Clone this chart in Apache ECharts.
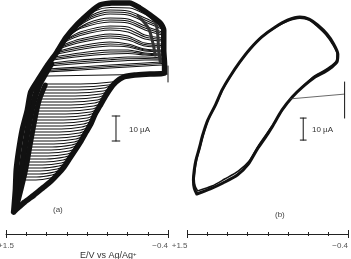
<!DOCTYPE html>
<html><head><meta charset="utf-8">
<script src="https://cdn.jsdelivr.net/npm/echarts@6/dist/echarts.min.js"></script>
<style>html,body{margin:0;padding:0;background:#fff}#c{width:351px;height:259px}</style>
</head><body><div id="c"></div>
<script>
// ---- axis (E / V vs Ag/Ag+) ----
const axisEnds = [1.5, -0.4];
const tickLabels = ['+1.5', '\u22120.4'];
const axisTicks = [1.5, 1.2625, 1.025, 0.7875, 0.55, 0.3125, 0.075, -0.1625, -0.4];

// ---- panel (a): current in uA vs E in V ----
const aOuter = [[1.41,-54.8],[1.39,-46.0],[1.38,-38.0],[1.35,-30.0],[1.31,-22.0],[1.25,-14.0],[1.21,-6.8],[1.11,-1.2],[1.02,3.6],[0.91,8.8],[0.80,14.8],[0.66,20.4],[0.51,25.2],[0.40,28.0],[0.26,28.8],[0.05,28.8],[-0.07,26.8],[-0.19,24.0],[-0.31,20.8],[-0.35,18.0],[-0.35,10.0],[-0.36,4.0],[-0.36,0.8],[-0.19,0.4],[-0.01,0.0],[0.12,-0.8],[0.21,-2.8],[0.28,-5.6],[0.34,-8.8],[0.40,-12.4],[0.46,-16.0],[0.50,-19.2],[0.56,-22.8],[0.62,-26.4],[0.68,-29.6],[0.75,-33.2],[0.82,-36.8],[0.89,-39.6],[0.97,-42.4],[1.07,-45.2],[1.17,-48.0],[1.28,-50.8],[1.36,-53.2],[1.41,-54.8]];
const aWedgeB = [[1.39,-52.0],[1.37,-48.0],[1.32,-38.0],[1.26,-24.8],[1.18,-11.2],[1.11,-4.0],[1.04,0.4],[0.97,4.4]];
const aWedgeC = [[1.37,-52.0],[1.34,-48.0],[1.27,-38.0],[1.20,-24.8],[1.12,-11.2],[1.04,-4.0]];
const aRightPile = [
 [[-0.13,25.2],[-0.25,21.2],[-0.28,16.0],[-0.29,10.0],[-0.31,5.2]],
 [[-0.05,23.6],[-0.17,18.8],[-0.22,13.2],[-0.25,8.0]]
];
const aUpperScans = [
 [[1.03,1.2],[0.63,2.0],[0.28,2.8],[0.07,3.2],[-0.13,3.6],[-0.33,4.0]],
 [[1.03,1.8],[0.63,2.6],[0.28,3.4],[0.07,3.8],[-0.13,4.2],[-0.33,4.6]],
 [[1.02,2.4],[0.63,3.2],[0.28,4.0],[0.07,4.4],[-0.13,4.8],[-0.33,5.2]],
 [[1.00,3.6],[0.63,4.6],[0.28,5.4],[0.07,5.8],[-0.13,6.0],[-0.33,6.0]],
 [[0.98,4.2],[0.63,5.3],[0.28,6.1],[0.07,6.5],[-0.13,6.6],[-0.33,6.4]],
 [[0.97,4.8],[0.63,6.0],[0.28,6.8],[0.07,7.2],[-0.13,7.2],[-0.33,6.8]],
 [[0.95,6.0],[0.63,7.4],[0.28,8.4],[0.07,8.6],[-0.13,8.0],[-0.33,7.6]],
 [[0.94,6.6],[0.63,8.1],[0.28,9.2],[0.07,9.3],[-0.13,8.4],[-0.33,8.0]],
 [[0.93,7.2],[0.63,8.8],[0.28,10.0],[0.07,10.0],[-0.13,8.8],[-0.33,8.4]],
 [[0.90,8.4],[0.63,10.2],[0.28,11.6],[0.07,11.2],[-0.13,9.6],[-0.33,9.2]],
 [[0.89,9.0],[0.63,10.9],[0.28,12.4],[0.07,11.8],[-0.13,10.0],[-0.33,9.6]],
 [[0.88,9.6],[0.63,11.6],[0.28,13.2],[0.07,12.4],[-0.13,10.4],[-0.33,10.0]],
 [[0.85,10.8],[0.63,13.0],[0.28,14.8],[0.07,14.0],[-0.13,11.6],[-0.33,11.2]],
 [[0.84,11.4],[0.63,13.7],[0.28,15.6],[0.07,14.8],[-0.13,12.2],[-0.33,11.8]],
 [[0.83,12.0],[0.63,14.4],[0.28,16.4],[0.07,15.6],[-0.13,12.8],[-0.33,12.4]],
 [[0.81,13.2],[0.63,15.8],[0.28,18.0],[0.07,17.2],[-0.13,14.4],[-0.33,13.6]],
 [[0.80,13.8],[0.63,16.5],[0.28,18.8],[0.07,18.2],[-0.13,15.2],[-0.33,14.2]],
 [[0.78,14.4],[0.63,17.2],[0.28,19.6],[0.07,19.2],[-0.13,16.0],[-0.33,14.8]],
 [[0.76,15.6],[0.63,18.6],[0.28,21.2],[0.07,20.8],[-0.13,18.0],[-0.33,16.0]],
 [[0.74,16.2],[0.59,19.6],[0.28,22.0],[0.07,21.6],[-0.13,18.8],[-0.33,16.6]],
 [[0.73,16.8],[0.54,20.8],[0.28,22.8],[0.07,22.4],[-0.13,19.6],[-0.33,17.2]],
 [[0.69,18.4],[0.51,22.4],[0.28,24.4],[0.07,24.0],[-0.13,21.2],[-0.33,18.4]],
 [[0.67,19.2],[0.50,23.2],[0.28,25.2],[0.07,24.8],[-0.13,22.0],[-0.33,19.0]],
 [[0.64,20.0],[0.49,24.0],[0.28,26.0],[0.07,25.6],[-0.13,22.8],[-0.33,19.6]],
 [[0.60,22.0],[0.46,25.6],[0.28,27.0],[0.05,26.8],[-0.17,23.6],[-0.33,20.4]]
];
const aLowerScans = [
 [[1.04,-3.6],[0.63,-3.6],[0.26,-2.8],[0.16,-1.6]],
 [[1.05,-4.8],[0.64,-4.8],[0.30,-4.0],[0.21,-2.8]],
 [[1.07,-6.0],[0.66,-6.0],[0.35,-5.2],[0.26,-4.0]],
 [[1.08,-7.2],[0.68,-7.2],[0.36,-6.4],[0.27,-5.2]],
 [[1.09,-8.4],[0.69,-8.4],[0.39,-7.6],[0.29,-6.4]],
 [[1.10,-9.6],[0.71,-9.6],[0.41,-8.8],[0.32,-7.6]],
 [[1.11,-10.8],[0.73,-10.8],[0.43,-10.0],[0.34,-8.8]],
 [[1.12,-12.0],[0.74,-12.0],[0.46,-11.2],[0.36,-10.0]],
 [[1.14,-13.2],[0.75,-13.2],[0.47,-12.4],[0.37,-11.2]],
 [[1.15,-14.4],[0.77,-14.4],[0.49,-13.6],[0.40,-12.4]],
 [[1.16,-15.6],[0.80,-15.6],[0.51,-14.8],[0.42,-13.6]],
 [[1.17,-16.8],[0.81,-16.8],[0.54,-16.0],[0.44,-14.8]],
 [[1.17,-18.0],[0.82,-18.0],[0.55,-17.2],[0.46,-16.0]],
 [[1.18,-19.2],[0.83,-19.2],[0.57,-18.4],[0.48,-17.2]],
 [[1.18,-20.4],[0.84,-20.4],[0.59,-19.6],[0.49,-18.4]],
 [[1.19,-21.6],[0.85,-21.6],[0.61,-20.8],[0.51,-19.6]],
 [[1.20,-22.8],[0.87,-22.8],[0.62,-22.0],[0.53,-20.8]],
 [[1.21,-24.0],[0.89,-24.0],[0.64,-23.2],[0.55,-22.0]],
 [[1.22,-25.2],[0.90,-25.2],[0.66,-24.4],[0.56,-23.2]],
 [[1.22,-26.4],[0.93,-26.4],[0.68,-25.6],[0.59,-24.4]],
 [[1.22,-27.6],[0.94,-27.6],[0.70,-26.8],[0.61,-25.6]],
 [[1.23,-28.8],[0.96,-28.8],[0.73,-28.0],[0.63,-26.8]],
 [[1.23,-30.0],[0.97,-30.0],[0.75,-29.2],[0.66,-28.0]],
 [[1.24,-31.2],[1.00,-31.2],[0.76,-30.4],[0.67,-29.2]],
 [[1.24,-32.4],[1.01,-32.4],[0.78,-31.6],[0.69,-30.4]],
 [[1.25,-33.6],[1.03,-33.6],[0.81,-32.8],[0.71,-31.6]],
 [[1.25,-34.8],[1.04,-34.8],[0.83,-34.0],[0.74,-32.8]],
 [[1.26,-36.0],[1.07,-36.0],[0.85,-35.2],[0.76,-34.0]],
 [[1.27,-37.2],[1.08,-37.2],[0.88,-36.4],[0.78,-35.2]],
 [[1.27,-38.4],[1.10,-38.4],[0.90,-37.6],[0.81,-36.4]],
 [[1.28,-39.6],[1.11,-39.6],[0.93,-38.8],[0.84,-37.6]],
 [[1.28,-40.8],[1.14,-40.8],[0.96,-40.0],[0.87,-38.8]],
 [[1.29,-42.0],[1.15,-42.0],[0.98,-41.2],[0.90,-40.0]]
];
const aBaseline = [[1.02,-0.4],[-0.39,0.4]];
const aZeroMark = [[-0.40,3.6],[-0.40,-2.8]];
const aScaleE = 0.21, aScaleTop = -16.4, aScaleBottom = -26.4;

// ---- panel (b) ----
const bCycle1 = [[1.39,-45.9],[1.42,-43.2],[1.43,-39.5],[1.42,-35.0],[1.40,-30.5],[1.36,-25.0],[1.32,-19.1],[1.26,-12.3],[1.17,-5.5],[1.09,1.4],[1.00,7.3],[0.88,14.1],[0.76,20.0],[0.62,25.5],[0.46,30.0],[0.31,33.2],[0.17,34.5],[0.06,33.6],[-0.04,30.9],[-0.15,26.8],[-0.23,22.3],[-0.28,17.7],[-0.27,14.1],[-0.21,11.8],[-0.12,9.5],[-0.01,7.3],[0.14,2.7],[0.26,-1.8],[0.38,-7.7],[0.50,-15.5],[0.59,-20.9],[0.68,-25.9],[0.78,-32.3],[0.91,-37.3],[1.08,-40.9],[1.23,-43.6],[1.39,-45.9]];
const bCycle2 = [[1.38,-44.5],[1.41,-42.3],[1.42,-39.1],[1.41,-34.5],[1.39,-30.0],[1.35,-24.5],[1.31,-18.6],[1.25,-11.8],[1.16,-5.0],[1.08,1.8],[0.99,7.7],[0.87,14.5],[0.75,20.5],[0.61,25.9],[0.45,30.0],[0.31,32.7],[0.17,34.0],[0.06,33.2],[-0.03,30.5],[-0.14,26.4],[-0.22,22.0],[-0.27,17.7],[-0.26,14.5],[-0.20,12.3],[-0.11,10.0],[0.00,7.7],[0.13,3.2],[0.25,-1.4],[0.37,-7.3],[0.49,-14.5],[0.59,-20.0],[0.67,-24.5],[0.77,-30.9],[0.90,-35.5],[1.06,-39.1],[1.21,-42.3],[1.38,-44.5]];
const bBaseline = [[0.29,-2.7],[-0.36,-0.5]];
const bZeroMark = [[-0.36,5.0],[-0.36,-11.4]];
const bScaleE = 0.13, bScaleTop = -11.4, bScaleBottom = -21.4;

const INK = '#111';
const FONT = 'Liberation Sans, Arial, sans-serif';
const chart = echarts.init(document.getElementById('c'), null, {renderer:'canvas'});

function ln(data, g, w, opt) {
  return Object.assign({type:'line', xAxisIndex:g, yAxisIndex:g, data:data, showSymbol:false, symbol:'none',
    smooth:0.3, silent:true, animation:false, clip:false,
    lineStyle:{color:INK, width:w, cap:'round', join:'round'}}, opt || {});
}
function scaleBar(g, e, top, bottom, half) {
  return [
    ln([[e,top],[e,bottom]], g, 1, {smooth:false}),
    ln([[e+half,top],[e-half,top]], g, 1, {smooth:false}),
    ln([[e+half,bottom],[e-half,bottom]], g, 1, {smooth:false})
  ];
}

const series = [];
aUpperScans.forEach(s => series.push(ln(s, 0, 1.1)));
aLowerScans.forEach(s => series.push(ln(s, 0, 1.1)));
aRightPile.forEach(s => series.push(ln(s, 0, 3, {lineStyle:{color:'#333', width:3, cap:'round'}})));
series.push(ln(aWedgeB, 0, 6));
series.push(ln(aWedgeC, 0, 5));
series.push(ln(aOuter, 0, 5.5, {smooth:0.2}));
series.push(ln(aBaseline, 0, 1.2, {smooth:false}));
series.push(ln(aZeroMark, 0, 1, {smooth:false}));
series.push(...scaleBar(0, aScaleE, aScaleTop, aScaleBottom, 0.045));
series.push(ln(bCycle2, 1, 1.5, {smooth:0.25}));
series.push(ln(bCycle1, 1, 3, {smooth:0.25}));
series.push(ln(bBaseline, 1, 0.8, {smooth:false, lineStyle:{color:'#444', width:0.8}}));
series.push(ln(bZeroMark, 1, 1, {smooth:false}));
series.push(...scaleBar(1, bScaleE, bScaleTop, bScaleBottom, 0.035));

const labelFmt = v => (v > 1 ? tickLabels[0] : tickLabels[1]);
function baseX(g, off) {
  return {type:'value', gridIndex:g, position:'bottom', inverse:true, min:-0.4, max:1.5, offset:off,
    splitLine:{show:false}, axisLine:{show:false, onZero:false}, axisTick:{show:false}, axisLabel:{show:false}};
}
function mainX(g, labelVals, align) {
  const a = baseX(g, 0);
  a.axisLine = {show:true, onZero:false, lineStyle:{color:'#222', width:1}};
  a.axisLabel = {show:true, customValues:labelVals, formatter:labelFmt, align:align,
    fontSize:8, color:'#555', fontFamily:FONT, margin:8};
  return a;
}
function tickX(g, vals, off, len, labelVals, align) {
  const a = baseX(g, off);
  a.axisTick = {show:true, customValues:vals, length:len, lineStyle:{color:'#222', width:1}};
  if (labelVals) a.axisLabel = {show:true, customValues:labelVals, formatter:labelFmt, align:align,
    fontSize:8, color:'#555', fontFamily:FONT, margin:8 - off};
  return a;
}

const option = {
  backgroundColor:'#fff',
  animation:false,
  grid:[
    {left:6, top:0, width:162, height:234, outerBoundsMode:'none', containLabel:false},
    {left:187.5, top:0, width:160.5, height:234, outerBoundsMode:'none', containLabel:false}
  ],
  xAxis:[mainX(0, [axisEnds[1]], 'right'), mainX(1, axisEnds, 'right'),
    tickX(0, axisTicks, -2, 4), tickX(1, axisTicks, -2, 4),
    tickX(0, axisEnds, -4, 8, [axisEnds[0]], 'center'), tickX(1, axisEnds, -4, 8)],
  yAxis:[
    {type:'value', gridIndex:0, min:-63.6, max:30, show:false},
    {type:'value', gridIndex:1, min:-64.09, max:42.27, show:false}
  ],
  series:series,
  graphic:[
    {type:'text', left:53, top:206, style:{text:'(a)', fill:'#444', font:'8px '+FONT}},
    {type:'text', left:275, top:211, style:{text:'(b)', fill:'#444', font:'8px '+FONT}},
    {type:'text', left:129, top:126, style:{text:'10 \u00b5A', fill:'#333', font:'8px '+FONT}},
    {type:'text', left:312, top:126, style:{text:'10 \u00b5A', fill:'#333', font:'8px '+FONT}},
    {type:'text', left:80, top:251, style:{rich:{n:{font:'9px '+FONT, fill:'#333'}, s:{font:'6px '+FONT, fill:'#333', verticalAlign:'top'}}, text:'{n|E/V vs Ag/Ag}{s|+}'}}
  ]
};
chart.setOption(option);
</script></body></html>
